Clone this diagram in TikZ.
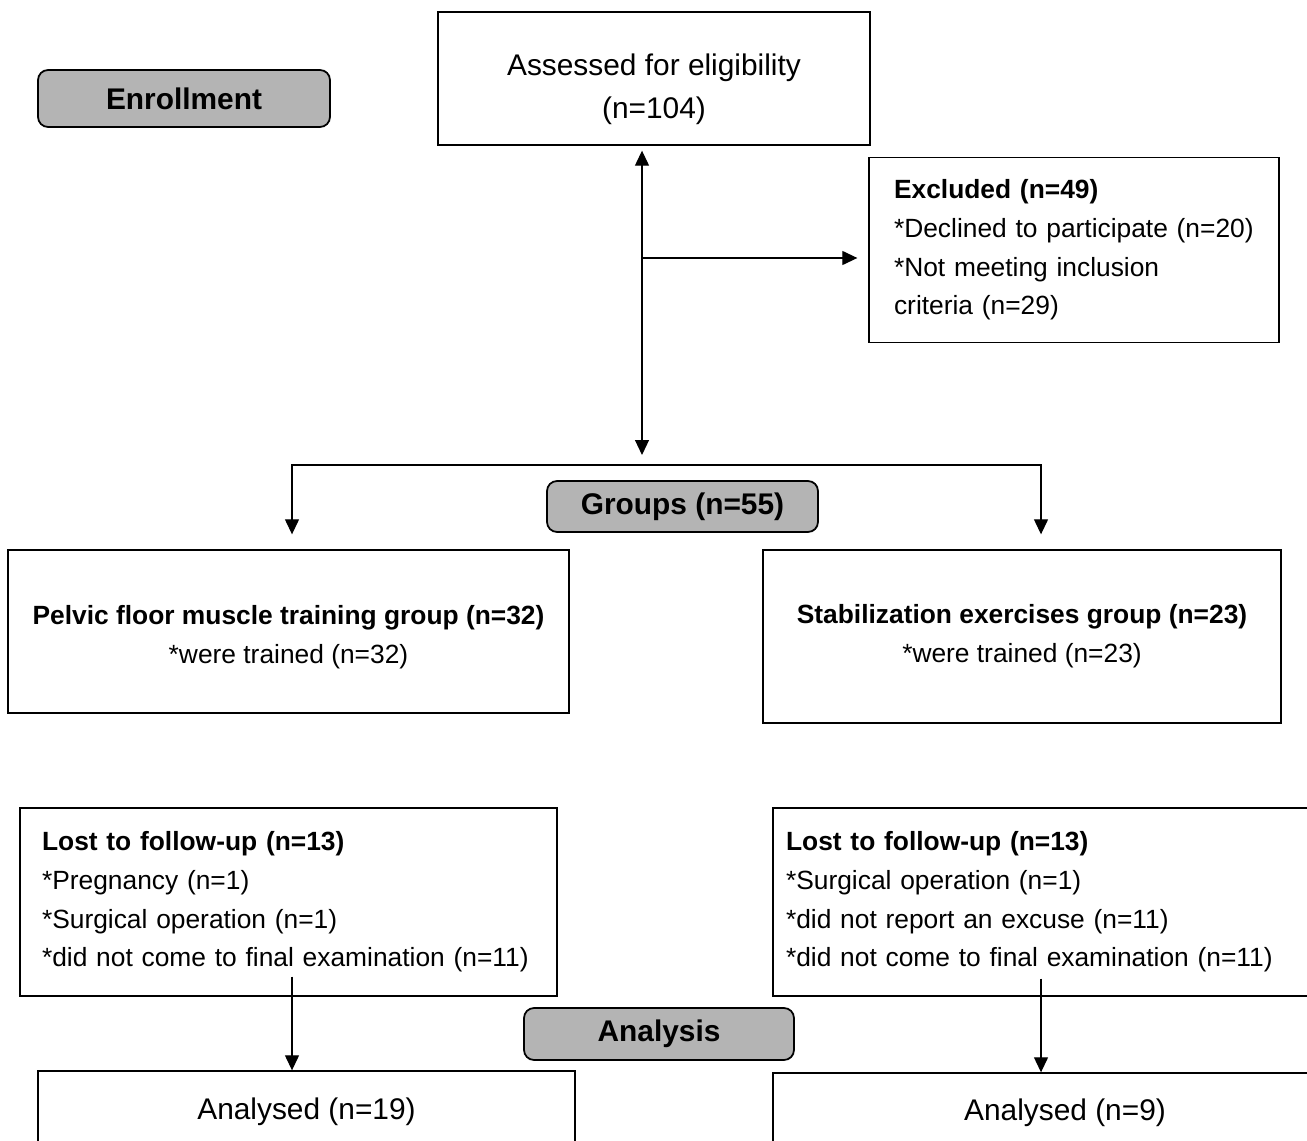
\documentclass[tikz,border=0pt]{standalone}
\usepackage{fontspec}
\setmainfont{Liberation Sans}
\usetikzlibrary{arrows.meta}
\definecolor{phasegray}{HTML}{B4B4B4}
\newcommand{\txtlist}{\fontsize{15}{22}\selectfont}
\newcommand{\txtmain}{\fontsize{17}{24.5}\selectfont}
\newcommand{\txtphase}{\fontsize{17}{20}\selectfont\bfseries}

\begin{document}
\begin{tikzpicture}[x=0.02cm,y=-0.02cm,
	>={Triangle[length=0.3cm,width=0.28cm]},
	phase/.style={draw,line width=1pt,rounded corners=0.2cm,fill=phasegray,font=\txtphase},
	plain/.style={draw,line width=0.8pt,align=center},
	list/.style={draw,line width=0.8pt,align=left,font=\txtlist},
	arr/.style={line width=0.7pt}]
	\useasboundingbox (0,0) rectangle (1307,1141);
	\clip (0,0) rectangle (1307,1141);
	\node[phase,minimum width=5.84cm,minimum height=1.14cm] (enroll) at (184,98.5) {Enrollment};
	\node[plain,font=\txtmain,minimum width=8.64cm,minimum height=2.66cm] (assess) at (654,78.5) {\rule{0pt}{25pt}Assessed for eligibility\\(n=104)};
	\node[list,text width=7.2cm,inner xsep=0.5cm,minimum height=3.7cm] (excl) at (1074,250)
		{\textbf{Excluded (n=49)}\\{}*Declined to participate (n=20)\\{}*Not meeting inclusion\\criteria (n=29)};
	\node[phase,minimum width=5.42cm,minimum height=1.02cm] (groups) at (682.5,506.5) {Groups (n=55)};
	\node[plain,font=\txtlist,minimum width=11.22cm,minimum height=3.26cm] (pfmt) at (288.5,631.5)
		{\rule{0pt}{17pt}\textbf{Pelvic floor muscle training group (n=32)}\\{}*were trained (n=32)};
	\node[plain,font=\txtlist,minimum width=10.36cm,minimum height=3.46cm] (stab) at (1022,636.5)
		{\textbf{Stabilization exercises group (n=23)}\\{}*were trained (n=23)};
	\node[list,text width=9.86cm,inner xsep=0.44cm,minimum height=3.76cm] (lostL) at (288.5,902)
		{\textbf{Lost to follow-up (n=13)}\\{}*Pregnancy (n=1)\\{}*Surgical operation (n=1)\\{}*did not come to final examination (n=11)};
	\node[list,text width=10.22cm,inner xsep=0.26cm,minimum height=3.76cm] (lostR) at (1041.5,902)
		{\textbf{Lost to follow-up (n=13)}\\{}*Surgical operation (n=1)\\{}*did not report an excuse (n=11)\\{}*did not come to final examination (n=11)};
	\node[phase,minimum width=5.4cm,minimum height=1.04cm] (analysis) at (659,1034) {Analysis};
	\node[plain,font=\txtmain,minimum width=10.74cm,minimum height=1.64cm] (anaL) at (306.5,1112) {Analysed (n=19)};
	\node[plain,font=\txtmain,minimum width=11.68cm,minimum height=1.6cm] (anaR) at (1065,1113) {Analysed (n=9)};
	\coordinate (bot) at (642,455);
	\coordinate (side) at (642,258);
	\coordinate (splitL) at (292,465);
	\coordinate (splitR) at (1041,465);
	\draw[arr,<->] ([yshift=-0.1cm]assess.south -| bot) -- (bot);
	\draw[arr,->] (side) -- ([xshift=-0.22cm]excl.west |- side);
	\draw[arr,<->,shorten <=0.3cm,shorten >=0.3cm] (splitL |- pfmt.north) -- (splitL) -- (splitR) -- (splitR |- stab.north);
	\draw[arr,->] ([yshift=0.4cm]lostL.south -| splitL) -- (splitL |- anaL.north);
	\draw[arr,->] ([yshift=0.36cm]lostR.south -| splitR) -- (splitR |- anaR.north);
\end{tikzpicture}
\end{document}
